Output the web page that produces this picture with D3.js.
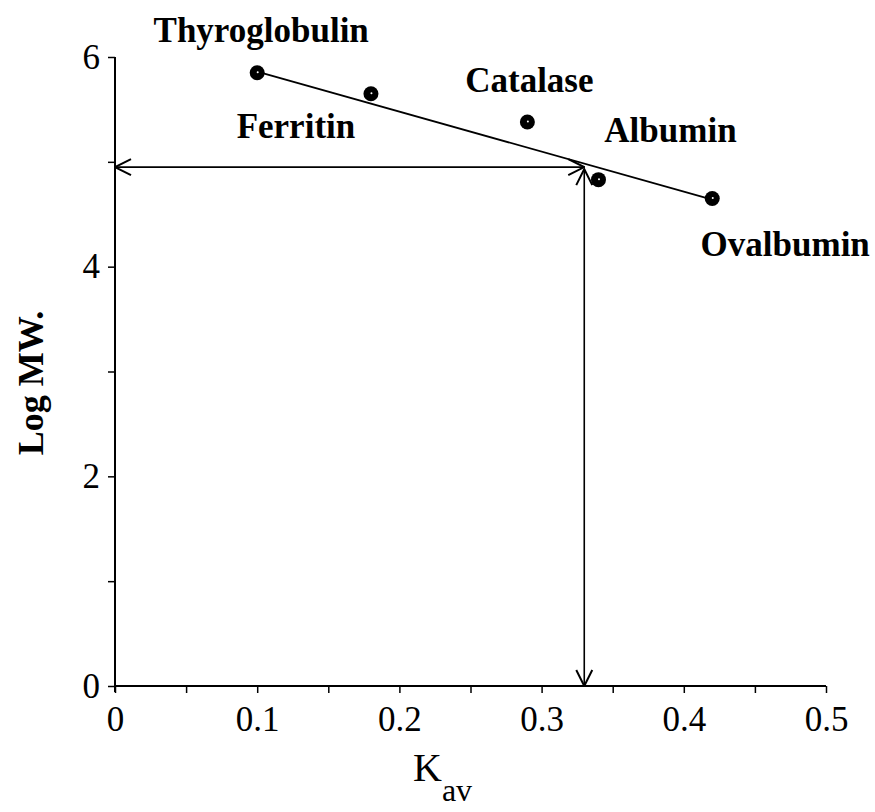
<!DOCTYPE html>
<html>
<head>
<meta charset="utf-8">
<script src="https://cdn.jsdelivr.net/npm/d3@7"></script>
<style>
  html, body { margin: 0; padding: 0; background: #fff; }
  svg text { font-family: "Liberation Serif", "Times New Roman", serif; fill: #000; }
</style>
</head>
<body>
<svg id="chart" width="875" height="812"></svg>
<script>
// Protein standards: distribution coefficient vs. log molecular weight
const proteins = ["Thyroglobulin", "Ferritin", "Catalase", "Albumin", "Ovalbumin"];
const kav      = [0.10, 0.18, 0.29, 0.34, 0.42];
const logMW    = [5.85, 5.65, 5.38, 4.83, 4.65];

// Calibration line endpoints (Kav, log MW)
const fitKav = [0.10, 0.42];
const fitLog = [5.86, 4.64];

// Unknown sample read-off
const sampleKav = 0.33;
const sampleLog = 4.95;

// Axis ticks
const xTicks = [0, 0.05, 0.1, 0.15, 0.2, 0.25, 0.3, 0.35, 0.4, 0.45, 0.5];
const xTickLabels = ["0", "", "0.1", "", "0.2", "", "0.3", "", "0.4", "", "0.5"];
const yTicks = [0, 1, 2, 3, 4, 5, 6];
const yTickLabels = ["0", "", "2", "", "4", "", "6"];

// Label anchor offsets in pixels relative to each point
const labelDx = [4, -75, 2, 72, 73];
const labelDy = [-31, 44, -30, -38, 57];

const margin = { top: 57, right: 49, bottom: 126, left: 115 };
const W = 875, H = 812;
const iw = W - margin.left - margin.right;
const ih = H - margin.top - margin.bottom;

const svg = d3.select("#chart");
const g = svg.append("g").attr("transform", `translate(${margin.left},${margin.top})`);

const x = d3.scaleLinear().domain([0, 0.5]).range([0, iw]);
const y = d3.scaleLinear().domain([0, 6]).range([ih, 0]);

// Arrowhead marker (open V)
const defs = svg.append("defs");
defs.append("marker")
  .attr("id", "vhead")
  .attr("viewBox", "0 0 20 20")
  .attr("refX", 19).attr("refY", 10)
  .attr("markerWidth", 20).attr("markerHeight", 20)
  .attr("markerUnits", "userSpaceOnUse")
  .attr("orient", "auto-start-reverse")
  .append("path")
  .attr("d", "M3,2 L19,10 L3,18")
  .attr("fill", "none").attr("stroke", "#000").attr("stroke-width", 2);

// X axis
const xAxis = d3.axisBottom(x)
  .tickValues(xTicks)
  .tickSize(7)
  .tickPadding(13)
  .tickFormat((d, i) => xTickLabels[i]);
const gx = g.append("g").attr("transform", `translate(0,${ih})`).call(xAxis);
gx.select(".domain").attr("d", `M0,0H${iw}`).attr("stroke-width", 2);
gx.selectAll(".tick line").attr("stroke-width", 1.5);
gx.selectAll(".tick text").attr("font-size", 35).attr("font-family", "Liberation Serif");

// Y axis
const yAxis = d3.axisLeft(y)
  .tickValues(yTicks)
  .tickSize(7)
  .tickPadding(8)
  .tickFormat((d, i) => yTickLabels[i]);
const gy = g.append("g").call(yAxis);
gy.select(".domain").attr("d", `M0,${ih + 6}V0`).attr("stroke-width", 2);
gy.selectAll(".tick line").attr("stroke-width", 1.5);
gy.selectAll(".tick text").attr("font-size", 35).attr("font-family", "Liberation Serif");

// Calibration line
g.append("line")
  .attr("x1", x(fitKav[0])).attr("y1", y(fitLog[0]))
  .attr("x2", x(fitKav[1])).attr("y2", y(fitLog[1]))
  .attr("stroke", "#000").attr("stroke-width", 1.8);

// Read-off arrows: horizontal to the Y axis, vertical down to the X axis
g.append("line")
  .attr("x1", x(0)).attr("y1", y(sampleLog))
  .attr("x2", x(sampleKav)).attr("y2", y(sampleLog))
  .attr("stroke", "#000").attr("stroke-width", 1.6)
  .attr("marker-start", "url(#vhead)").attr("marker-end", "url(#vhead)");
g.append("line")
  .attr("x1", x(sampleKav)).attr("y1", y(sampleLog) + 2)
  .attr("x2", x(sampleKav)).attr("y2", y(0))
  .attr("stroke", "#000").attr("stroke-width", 1.6)
  .attr("marker-start", "url(#vhead)").attr("marker-end", "url(#vhead)");

// Data points
const pts = g.append("g").selectAll("g").data(proteins).join("g")
  .attr("transform", (d, i) => `translate(${x(kav[i])},${y(logMW[i])})`);
pts.append("circle").attr("r", 7.5).attr("fill", "#000");
pts.append("circle").attr("r", 1).attr("cx", 0.5).attr("cy", -0.5).attr("fill", "#fff");

// Point labels
g.append("g").selectAll("text").data(proteins).join("text")
  .attr("x", (d, i) => x(kav[i]) + labelDx[i])
  .attr("y", (d, i) => y(logMW[i]) + labelDy[i])
  .attr("text-anchor", "middle")
  .attr("font-size", 35).attr("font-weight", "bold")
  .text(d => d);

// Axis titles
svg.append("text")
  .attr("transform", `translate(43,383) rotate(-90)`)
  .attr("text-anchor", "middle")
  .attr("font-size", 36).attr("font-weight", "bold")
  .text("Log MW.");

const xt = svg.append("text")
  .attr("x", 413).attr("y", 781)
  .attr("font-size", 40);
xt.append("tspan").text("K");
xt.append("tspan").attr("dy", 20).attr("font-size", 32).text("av");
</script>
</body>
</html>
